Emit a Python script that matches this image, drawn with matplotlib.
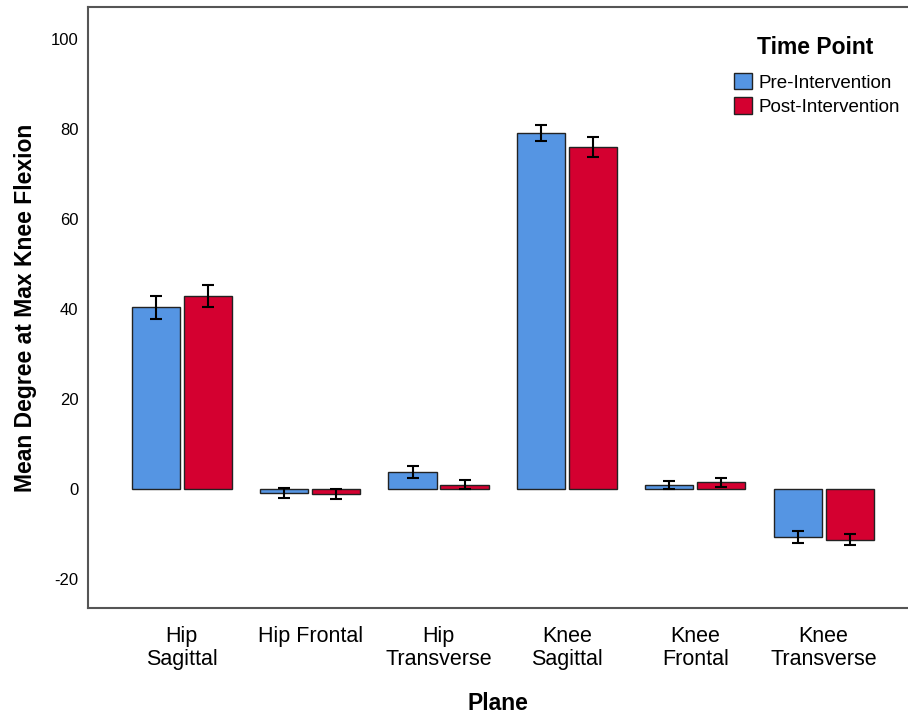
import numpy as np
import matplotlib.pyplot as plt
from matplotlib.patches import Patch

plt.rcParams['font.family'] = ['Liberation Sans', 'DejaVu Sans']
plt.rcParams['axes.unicode_minus'] = False

# Mean joint angle at max knee flexion, with error bar half-widths
planes = ["Hip\nSagittal", "Hip Frontal", "Hip\nTransverse",
          "Knee\nSagittal", "Knee\nFrontal", "Knee\nTransverse"]
pre_mean = [40.4, -0.9, 3.8, 79.1, 0.8, -10.7]
pre_err = [2.6, 1.1, 1.3, 1.7, 0.9, 1.3]
post_mean = [42.9, -1.1, 0.9, 76.0, 1.5, -11.3]
post_err = [2.5, 1.2, 1.0, 2.2, 1.0, 1.2]
series_names = ["Pre-Intervention", "Post-Intervention"]

blue = "#5595E3"
red = "#D40030"

fig = plt.figure(figsize=(9.08, 7.15), dpi=100)
ax = fig.add_axes([0.097, 0.150, 0.902, 0.840])

x = np.arange(len(planes))
w = 0.375
off = w / 2 + 0.015
ekw = dict(ecolor="black", elinewidth=1.5, capsize=4.5, capthick=1.5)
ax.bar(x - off, pre_mean, w, color=blue, edgecolor="#222222", linewidth=1.0,
       yerr=pre_err, error_kw=ekw)
ax.bar(x + off, post_mean, w, color=red, edgecolor="#222222", linewidth=1.0,
       yerr=post_err, error_kw=ekw)

ax.set_xlim(-0.73, 5.65)
ax.set_ylim(-26.4, 107.1)
ax.set_yticks([-20, 0, 20, 40, 60, 80, 100])
ax.set_xticks(x)
ax.set_xticklabels(planes, fontsize=15.5, linespacing=1.12)
ax.tick_params(axis="y", length=0, labelsize=12, pad=7)
ax.tick_params(axis="x", length=0, pad=13)

for s in ax.spines.values():
    s.set_color("#555555")
    s.set_linewidth(1.5)
ax.spines["right"].set_visible(False)

ax.set_ylabel("Mean Degree at Max Knee Flexion", fontsize=16.5, fontweight="bold", labelpad=10)
ax.set_xlabel("Plane", fontsize=16.5, fontweight="bold", labelpad=16)

# legend: title drawn separately so the gap above the entries can be set
ax.text(0.888, 0.932, "Time Point", transform=ax.transAxes, ha="center", va="center",
        fontsize=16.5, fontweight="bold")
handles = [Patch(facecolor=blue, edgecolor="#222222"),
           Patch(facecolor=red, edgecolor="#222222")]
ax.legend(handles, series_names, loc="upper left", bbox_to_anchor=(0.789, 0.890),
          frameon=False, fontsize=13.5, handlelength=0.95, handleheight=0.95,
          handletextpad=0.35, labelspacing=0.3, borderaxespad=0, borderpad=0)

fig.savefig("out.png", dpi=100)
